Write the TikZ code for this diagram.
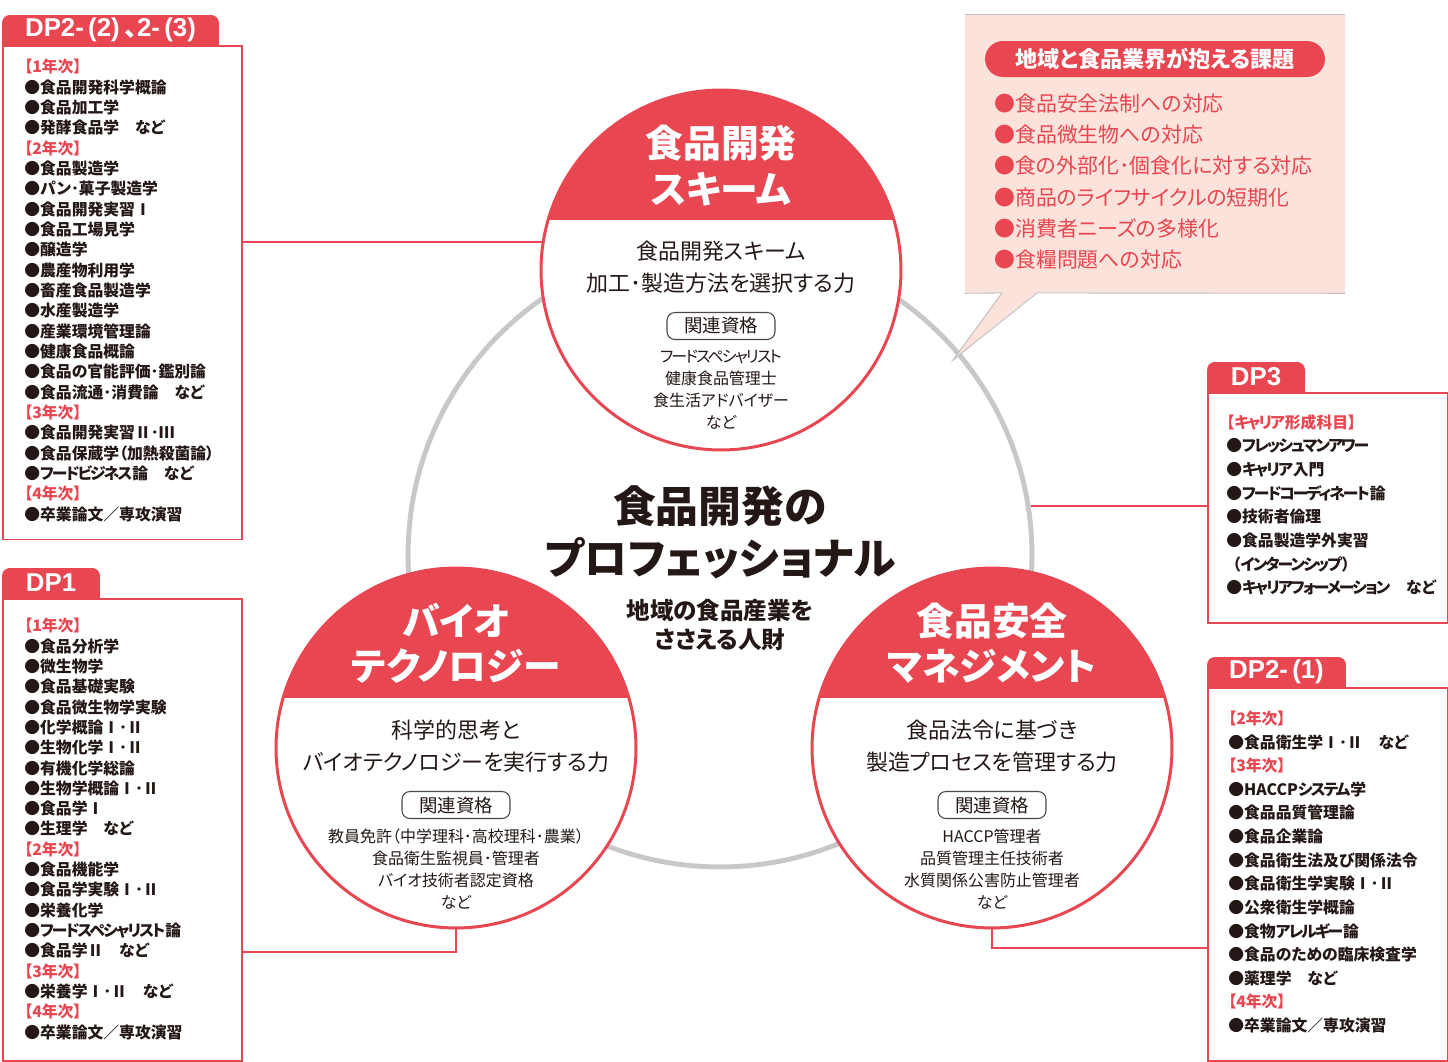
\documentclass[tikz,border=0pt]{standalone}
\usepackage{fontspec}
\setmainfont{Noto Sans CJK JP}[RawFeature=+palt]
\newfontfamily\latinfont{Liberation Sans}
\usetikzlibrary{backgrounds}

\definecolor{myred}{RGB}{232,70,80}
\definecolor{calloutpink}{RGB}{251,226,219}
\definecolor{ringgray}{RGB}{200,200,200}
\definecolor{edgegray}{RGB}{190,190,190}
\definecolor{inkblack}{RGB}{35,24,21}

\newcommand{\yearhead}[1]{\textcolor{myred}{【#1】}}
\newcommand{\lat}[1]{{\latinfont #1}}
\newcommand{\tightkana}[1]{{\addfontfeature{LetterSpace=-12}#1}}

\tikzset{
  listbox/.style={draw=myred, line width=0.9pt, anchor=north west, inner sep=0pt},
  tabhead/.style={fill=myred, text=white, rounded corners=4.5pt, inner sep=0pt,
                  minimum height=0.6cm, font=\bfseries\fontsize{14.7}{16}\selectfont},
  listtext/.style={anchor=west, align=left, inner sep=0pt, text=inkblack,
                   font=\bfseries\fontsize{9}{11.57}\selectfont},
  link/.style={draw=myred, line width=0.8pt},
  area/.style={circle, fill=white, inner sep=0pt, minimum size=7.2cm},
  ringline/.style={draw=myred, line width=1.7pt},
  areatitle/.style={align=center, text=white, inner sep=0pt,
                    font=\bfseries\fontsize{21.5}{25.8}\selectfont},
  areatext/.style={align=center, text=inkblack, inner sep=0pt,
                   font=\fontsize{12.5}{18.1}\selectfont},
  qualpill/.style={draw=inkblack!80, fill=white, line width=0.6pt, rounded corners=4.5pt,
                   minimum width=2.16cm, minimum height=0.54cm, inner sep=0pt,
                   text=inkblack, font=\fontsize{10.5}{12}\selectfont},
  qualtext/.style={align=center, inner sep=0pt, text=inkblack,
                   font=\fontsize{9.1}{12.5}\selectfont},
  calloutedge/.style={draw=edgegray, line width=0.5pt},
}

\begin{document}
\begin{tikzpicture}[x=0.02cm, y=-0.02cm]
\useasboundingbox (0,0) rectangle (1448,1062);

% large ring
\node[circle, draw=ringgray, line width=2.8pt, minimum size=12.48cm, inner sep=0pt] (prof) at (720,555) {};

% three areas
\node[area] (dev) at (721,270) {};
\node[area] (bio) at (456,748) {};
\node[area] (safe) at (992,748) {};
\begin{scope}
  \clip (dev.center) circle[radius=3.6cm];
  \fill[myred] (538,86) rectangle (904,220);
\end{scope}
\begin{scope}
  \clip (bio.center) circle[radius=3.6cm];
  \fill[myred] (273,564) rectangle (639,698);
\end{scope}
\begin{scope}
  \clip (safe.center) circle[radius=3.6cm];
  \fill[myred] (809,564) rectangle (1175,698);
\end{scope}
\draw[ringline] (dev.center) circle[radius=3.6cm];
\draw[ringline] (bio.center) circle[radius=3.6cm];
\draw[ringline] (safe.center) circle[radius=3.6cm];

\node[areatitle] (devtitle) at (721,165.5) {食品開発\\スキーム};
\node[areatext] (devtext) at (721,267) {食品開発スキーム\\加工･製造方法を選択する力};
\node[qualpill] (devpill) at (721,326) {関連資格};
\node[qualtext] (devquals) at (721,390) {\tightkana{フードスペシャリスト}\\健康食品管理士\\食生活アドバイザー\\など};

\node[areatitle] (biotitle) at (456,643) {バイオ\\テクノロジー};
\node[areatext] (biotext) at (456,746) {科学的思考と\\バイオテクノロジーを実行する力};
\node[qualpill] (biopill) at (456,805) {関連資格};
\node[qualtext] (bioquals) at (456,869) {教員免許（中学理科･高校理科･農業）\\食品衛生監視員･管理者\\バイオ技術者認定資格\\など};

\node[areatitle] (safetitle) at (992,643) {食品安全\\マネジメント};
\node[areatext] (safetext) at (992,746) {食品法令に基づき\\製造プロセスを管理する力};
\node[qualpill] (safepill) at (992,805) {関連資格};
\node[qualtext] (safequals) at (992,869) {HACCP管理者\\品質管理主任技術者\\水質関係公害防止管理者\\など};

% centre
\node[align=center, inner sep=0pt, text=inkblack, font=\bfseries\fontsize{24.4}{29.5}\selectfont] (proftitle) at (720,532) {食品開発の\\プロフェッショナル};
\node[align=center, inner sep=0pt, text=inkblack, font=\bfseries\fontsize{13.4}{17}\selectfont] (profsub) at (720,625) {地域の食品産業を\\ささえる人財};

% callout
\node[fill=calloutpink, minimum width=7.6cm, minimum height=5.56cm, inner sep=0pt] (callout) at (1155,154) {};
\fill[calloutpink] (1002,292) -- (953,360) -- (1037,292) -- cycle;
\draw[calloutedge] (callout.north west) -- (callout.north east);
\draw[calloutedge] (callout.south west) -- (1002,293) -- (953,360) -- (1037,293) -- (callout.south east);
\node[fill=myred, text=white, rounded corners=0.36cm, minimum width=6.8cm, minimum height=0.72cm, inner sep=0pt,
      font=\bfseries\fontsize{12.6}{14}\selectfont] (issues) at (1155,59) {地域と食品業界が抱える課題};
\node[anchor=west, align=left, inner sep=0pt, text=myred, font=\fontsize{11.9}{17.8}\selectfont] (issuelist) at (994,181.5)
  {●食品安全法制への対応\\●食品微生物への対応\\●食の外部化･個食化に対する対応\\●商品のライフサイクルの短期化\\●消費者ニーズの多様化\\●食糧問題への対応};

% DP2-(2), 2-(3)
\node[tabhead, minimum width=4.34cm] (dp22tab) at (110.5,30) {\lat{DP2-\,(2)\,}、\lat{2-\,(3)}};
\node[listbox, minimum width=4.78cm, minimum height=9.88cm] (dp22box) at (2,45) {};
\node[listtext] (dp22list) at (24,290.5) {\yearhead{1年次}\\
  ●食品開発科学概論\\●食品加工学\\●発酵食品学　など\\
  \yearhead{2年次}\\
  ●食品製造学\\●パン･菓子製造学\\●食品開発実習Ⅰ\\●食品工場見学\\●醸造学\\●農産物利用学\\
  ●畜産食品製造学\\●水産製造学\\●産業環境管理論\\●健康食品概論\\●食品の官能評価･鑑別論\\
  ●食品流通･消費論　など\\
  \yearhead{3年次}\\
  ●食品開発実習Ⅱ･Ⅲ\\●食品保蔵学（加熱殺菌論）\\●\tightkana{フードビジネス}論　など\\
  \yearhead{4年次}\\
  ●卒業論文／専攻演習};

% DP1
\node[tabhead, minimum width=1.96cm] (dp1tab) at (51,583) {\lat{DP1}};
\node[listbox, minimum width=4.78cm, minimum height=9.24cm] (dp1box) at (2,598) {};
\node[listtext] (dp1list) at (24,829) {\yearhead{1年次}\\
  ●食品分析学\\●微生物学\\●食品基礎実験\\●食品微生物学実験\\●化学概論Ⅰ･Ⅱ\\●生物化学Ⅰ･Ⅱ\\
  ●有機化学総論\\●生物学概論Ⅰ･Ⅱ\\●食品学Ⅰ\\●生理学　など\\
  \yearhead{2年次}\\
  ●食品機能学\\●食品学実験Ⅰ･Ⅱ\\●栄養化学\\●\tightkana{フードスペシャリスト}論\\●食品学Ⅱ　など\\
  \yearhead{3年次}\\
  ●栄養学Ⅰ･Ⅱ　など\\
  \yearhead{4年次}\\
  ●卒業論文／専攻演習};

% DP3
\node[tabhead, minimum width=1.96cm] (dp3tab) at (1256,377) {\lat{DP3}};
\node[listbox, minimum width=4.8cm, minimum height=4.6cm] (dp3box) at (1207,392) {};
\node[listtext, font=\bfseries\fontsize{9}{13.44}\selectfont] (dp3list) at (1226,505) {\yearhead{\tightkana{キャリア}形成科目}\\
  ●\tightkana{フレッシュマンアワー}\\●\tightkana{キャリア}入門\\●\tightkana{フードコーディネート}論\\●技術者倫理\\●食品製造学外実習\\
  \hspace*{0.4em}（\tightkana{インターンシップ}）\\●\tightkana{キャリアフォーメーション}　など};

% DP2-(1)
\node[tabhead, minimum width=2.78cm] (dp21tab) at (1276.5,672) {\lat{DP2-\,(1)}};
\node[listbox, minimum width=4.8cm, minimum height=7.46cm] (dp21box) at (1207,687) {};
\node[listtext, font=\bfseries\fontsize{9}{13.44}\selectfont] (dp21list) at (1228,872) {\yearhead{2年次}\\
  ●食品衛生学Ⅰ･Ⅱ　など\\
  \yearhead{3年次}\\
  ●HACCP\tightkana{システム}学\\●食品品質管理論\\●食品企業論\\●食品衛生法及び関係法令\\●食品衛生学実験Ⅰ･Ⅱ\\
  ●公衆衛生学概論\\●食物\tightkana{アレルギー}論\\●食品のための臨床検査学\\●薬理学　など\\
  \yearhead{4年次}\\
  ●卒業論文／専攻演習};

% square lower corners of the tabs
\begin{scope}[on background layer]
  \fill[myred] (dp22tab.west) rectangle (dp22tab.south east);
  \fill[myred] (dp1tab.west) rectangle (dp1tab.south east);
  \fill[myred] (dp3tab.west) rectangle (dp3tab.south east);
  \fill[myred] (dp21tab.west) rectangle (dp21tab.south east);
\end{scope}

% links
\coordinate (dp1link) at (241,952);
\coordinate (dp21link) at (1207,948);
\draw[link] (dev.171) -- (dev.171 -| dp22box.east);
\draw[link] (prof.9) -- (prof.9 -| dp3box.west);
\draw[link] (bio.south) |- (dp1link);
\draw[link] (safe.south) |- (dp21link);
\end{tikzpicture}
\end{document}
